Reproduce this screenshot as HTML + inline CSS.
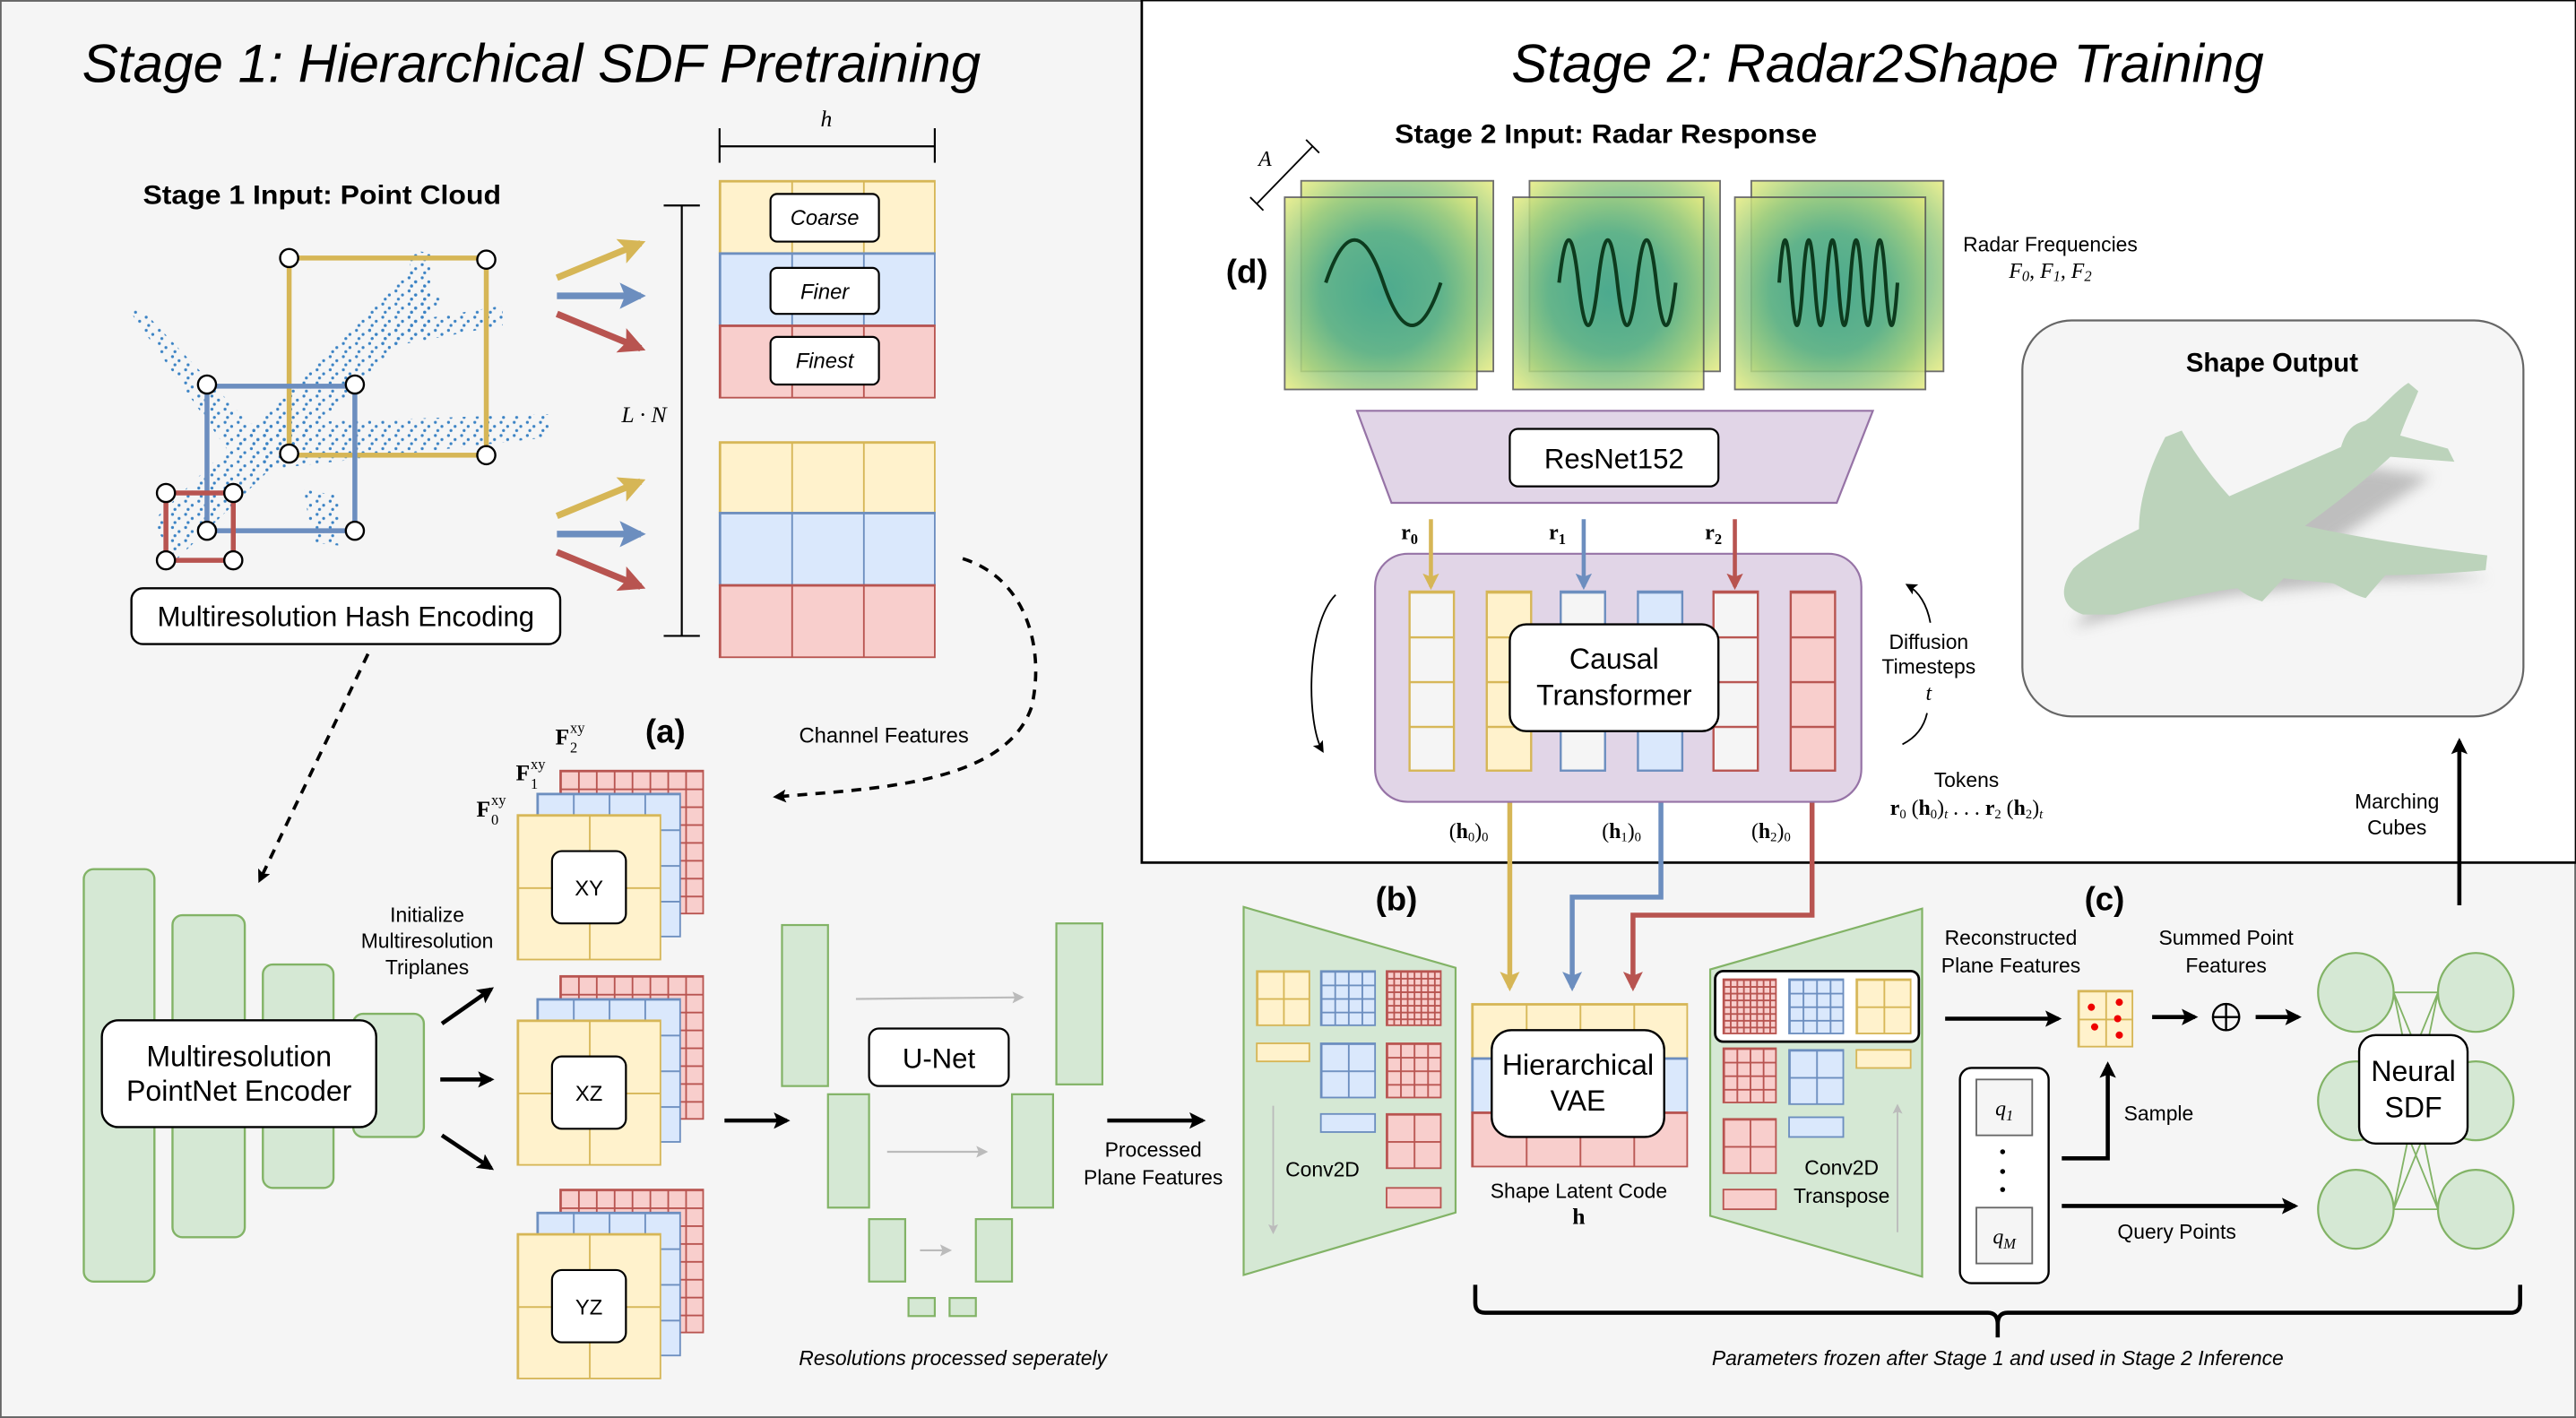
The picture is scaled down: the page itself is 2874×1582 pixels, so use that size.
<!DOCTYPE html>
<html><head><meta charset="utf-8"><style>
html,body{margin:0;padding:0;background:#f5f5f5;}
svg{display:block;}
text{font-family:"Liberation Sans",sans-serif;}
.it{font-style:italic;}
.b{font-weight:bold;}
.ser{font-family:"Liberation Serif",serif;}
</style></head><body>
<svg xmlns="http://www.w3.org/2000/svg" width="2874" height="1582" viewBox="0 0 1568 863">
<defs>
<marker id="ak" viewBox="0 0 10 10" refX="8" refY="5" markerWidth="4" markerHeight="4" orient="auto"><path d="M0,0L10,5L0,10L2,5z" fill="#000"/></marker>
<marker id="ay" viewBox="0 0 10 10" refX="8" refY="5" markerWidth="4" markerHeight="4" orient="auto"><path d="M0,0L10,5L0,10L2,5z" fill="#d6b656"/></marker>
<marker id="ab" viewBox="0 0 10 10" refX="8" refY="5" markerWidth="4" markerHeight="4" orient="auto"><path d="M0,0L10,5L0,10L2,5z" fill="#6c8ebf"/></marker>
<marker id="ar" viewBox="0 0 10 10" refX="8" refY="5" markerWidth="4" markerHeight="4" orient="auto"><path d="M0,0L10,5L0,10L2,5z" fill="#b85450"/></marker>
<marker id="ag" viewBox="0 0 10 10" refX="8" refY="5" markerWidth="6" markerHeight="6" orient="auto"><path d="M0,0L10,5L0,10L2,5z" fill="#bbb"/></marker>
<marker id="ak2" viewBox="0 0 10 10" refX="8" refY="5" markerWidth="7" markerHeight="7" orient="auto"><path d="M0,0L10,5L0,10L2,5z" fill="#000"/></marker>
<radialGradient id="rad" cx="0.5" cy="0.5" r="0.7">
<stop offset="0" stop-color="#48a88c"/><stop offset="0.45" stop-color="#5eb289"/><stop offset="0.75" stop-color="#a0ce80"/><stop offset="1" stop-color="#e6ec80"/></radialGradient>
<filter id="sh" x="-20%" y="-20%" width="140%" height="160%"><feGaussianBlur stdDeviation="4"/></filter>
<pattern id="dots" patternUnits="userSpaceOnUse" width="8" height="8">
<circle cx="1" cy="1" r="0.9" fill="#3a82c4"/><circle cx="5" cy="3.5" r="0.9" fill="#3a82c4"/><circle cx="2.5" cy="6" r="0.9" fill="#3a82c4"/>
</pattern>
<pattern id="Y3" patternUnits="objectBoundingBox" width="0.33333" height="1"><rect width="1000" height="1000" fill="#fff2cc"/><path d="M0,0V1000M0,0H1000" stroke="#d6b656" stroke-width="2"/></pattern>
<pattern id="B3" patternUnits="objectBoundingBox" width="0.33333" height="1"><rect width="1000" height="1000" fill="#dae8fc"/><path d="M0,0V1000M0,0H1000" stroke="#6c8ebf" stroke-width="2"/></pattern>
<pattern id="R3" patternUnits="objectBoundingBox" width="0.33333" height="1"><rect width="1000" height="1000" fill="#f8cecc"/><path d="M0,0V1000M0,0H1000" stroke="#b85450" stroke-width="2"/></pattern>
<pattern id="Y4r" patternUnits="objectBoundingBox" width="0.25" height="1"><rect width="1000" height="1000" fill="#fff2cc"/><path d="M0,0V1000M0,0H1000" stroke="#d6b656" stroke-width="2"/></pattern>
<pattern id="B4r" patternUnits="objectBoundingBox" width="0.25" height="1"><rect width="1000" height="1000" fill="#dae8fc"/><path d="M0,0V1000M0,0H1000" stroke="#6c8ebf" stroke-width="2"/></pattern>
<pattern id="R4r" patternUnits="objectBoundingBox" width="0.25" height="1"><rect width="1000" height="1000" fill="#f8cecc"/><path d="M0,0V1000M0,0H1000" stroke="#b85450" stroke-width="2"/></pattern>
<pattern id="Y2" patternUnits="objectBoundingBox" width="0.5" height="0.5"><rect width="1000" height="1000" fill="#fff2cc"/><path d="M0,0V1000M0,0H1000" stroke="#d6b656" stroke-width="2"/></pattern>
<pattern id="B2" patternUnits="objectBoundingBox" width="0.5" height="0.5"><rect width="1000" height="1000" fill="#dae8fc"/><path d="M0,0V1000M0,0H1000" stroke="#6c8ebf" stroke-width="2"/></pattern>
<pattern id="R2" patternUnits="objectBoundingBox" width="0.5" height="0.5"><rect width="1000" height="1000" fill="#f8cecc"/><path d="M0,0V1000M0,0H1000" stroke="#b85450" stroke-width="2"/></pattern>
<pattern id="B4" patternUnits="objectBoundingBox" width="0.25" height="0.25"><rect width="1000" height="1000" fill="#dae8fc"/><path d="M0,0V1000M0,0H1000" stroke="#6c8ebf" stroke-width="2"/></pattern>
<pattern id="R4" patternUnits="objectBoundingBox" width="0.25" height="0.25"><rect width="1000" height="1000" fill="#f8cecc"/><path d="M0,0V1000M0,0H1000" stroke="#b85450" stroke-width="2"/></pattern>
<pattern id="R8" patternUnits="objectBoundingBox" width="0.125" height="0.125"><rect width="1000" height="1000" fill="#f8cecc"/><path d="M0,0V1000M0,0H1000" stroke="#b85450" stroke-width="2"/></pattern>
<pattern id="TWy" patternUnits="objectBoundingBox" width="1" height="0.25"><rect width="1000" height="1000" fill="#f5f5f5"/><path d="M0,0H1000" stroke="#d6b656" stroke-width="2.6"/></pattern>
<pattern id="TY" patternUnits="objectBoundingBox" width="1" height="0.25"><rect width="1000" height="1000" fill="#fff2cc"/><path d="M0,0H1000" stroke="#d6b656" stroke-width="2.6"/></pattern>
<pattern id="TWb" patternUnits="objectBoundingBox" width="1" height="0.25"><rect width="1000" height="1000" fill="#f5f5f5"/><path d="M0,0H1000" stroke="#6c8ebf" stroke-width="2.6"/></pattern>
<pattern id="TB" patternUnits="objectBoundingBox" width="1" height="0.25"><rect width="1000" height="1000" fill="#dae8fc"/><path d="M0,0H1000" stroke="#6c8ebf" stroke-width="2.6"/></pattern>
<pattern id="TWr" patternUnits="objectBoundingBox" width="1" height="0.25"><rect width="1000" height="1000" fill="#f5f5f5"/><path d="M0,0H1000" stroke="#b85450" stroke-width="2.6"/></pattern>
<pattern id="TR" patternUnits="objectBoundingBox" width="1" height="0.25"><rect width="1000" height="1000" fill="#f8cecc"/><path d="M0,0H1000" stroke="#b85450" stroke-width="2.6"/></pattern>
</defs>
<rect x="0" y="0" width="1568" height="863" fill="#f5f5f5" stroke="#666" stroke-width="2"/>
<rect x="695" y="0" width="873" height="525" fill="#fff" stroke="#000" stroke-width="1.5"/>

<text x="50" y="50" font-size="33" class="it" textLength="547" lengthAdjust="spacingAndGlyphs">Stage 1: Hierarchical SDF Pretraining</text>
<text x="920" y="50" font-size="33" class="it" textLength="458" lengthAdjust="spacingAndGlyphs">Stage 2: Radar2Shape Training</text>

<text x="87" y="124" font-size="16" class="b" textLength="218" lengthAdjust="spacingAndGlyphs">Stage 1 Input: Point Cloud</text>
<g fill="url(#dots)">
<polygon points="92,318 250,165 270,184 108,340"/>
<polygon points="78,188 88,190 156,262 140,276"/>
<polygon points="150,258 335,252 335,266 160,286"/>
<polygon points="222,200 306,186 306,198 232,212"/>
<polygon points="250,152 262,154 262,205 248,205"/>
<polygon points="185,298 208,302 206,332 190,330"/>
</g>
<g fill="none" stroke-width="3">
<rect x="176" y="157" width="120" height="120" stroke="#d6b656"/>
<rect x="126" y="235" width="90" height="88" stroke="#6c8ebf"/>
<rect x="101" y="300" width="41" height="41" stroke="#b85450"/>
</g>
<g fill="#fff" stroke="#000" stroke-width="1.3">
<circle cx="176" cy="157" r="5.5"/><circle cx="296" cy="158" r="5.5"/><circle cx="176" cy="276" r="5.5"/><circle cx="296" cy="277" r="5.5"/>
<circle cx="126" cy="234" r="5.5"/><circle cx="216" cy="234" r="5.5"/><circle cx="126" cy="323" r="5.5"/><circle cx="216" cy="323" r="5.5"/>
<circle cx="101" cy="300" r="5.5"/><circle cx="142" cy="300" r="5.5"/><circle cx="101" cy="341" r="5.5"/><circle cx="142" cy="341" r="5.5"/>
</g>
<rect x="80" y="358" width="261" height="34" rx="7" fill="#fff" stroke="#000" stroke-width="1.3"/>
<text x="210.5" y="381" font-size="17" text-anchor="middle">Multiresolution Hash Encoding</text>

<g stroke-width="4" fill="none">
<line x1="339" y1="169" x2="390" y2="148" stroke="#d6b656" marker-end="url(#ay)"/>
<line x1="339" y1="180" x2="390" y2="180" stroke="#6c8ebf" marker-end="url(#ab)"/>
<line x1="339" y1="191" x2="390" y2="212" stroke="#b85450" marker-end="url(#ar)"/>
<line x1="339" y1="314" x2="390" y2="293" stroke="#d6b656" marker-end="url(#ay)"/>
<line x1="339" y1="325" x2="390" y2="325" stroke="#6c8ebf" marker-end="url(#ab)"/>
<line x1="339" y1="336" x2="390" y2="357" stroke="#b85450" marker-end="url(#ar)"/>
</g>
<rect x="438" y="110" width="131" height="44" fill="url(#Y3)" stroke="#d6b656"/>
<rect x="438" y="154" width="131" height="44" fill="url(#B3)" stroke="#6c8ebf"/>
<rect x="438" y="198" width="131" height="44" fill="url(#R3)" stroke="#b85450"/>
<rect x="438" y="269" width="131" height="43" fill="url(#Y3)" stroke="#d6b656"/>
<rect x="438" y="312" width="131" height="44" fill="url(#B3)" stroke="#6c8ebf"/>
<rect x="438" y="356" width="131" height="44" fill="url(#R3)" stroke="#b85450"/>
<g fill="#fff" stroke="#000" stroke-width="1.2">
<rect x="469" y="118" width="66" height="29" rx="4"/><rect x="469" y="163" width="66" height="28" rx="4"/><rect x="469" y="205" width="66" height="29" rx="4"/>
</g>
<text x="502" y="137" font-size="13" class="it" text-anchor="middle">Coarse</text>
<text x="502" y="182" font-size="13" class="it" text-anchor="middle">Finer</text>
<text x="502" y="224" font-size="13" class="it" text-anchor="middle">Finest</text>
<g stroke="#000" stroke-width="1.2">
<line x1="438" y1="89" x2="569" y2="89"/><line x1="438" y1="78" x2="438" y2="99"/><line x1="569" y1="78" x2="569" y2="99"/>
<line x1="415" y1="125" x2="415" y2="387"/><line x1="404" y1="125" x2="426" y2="125"/><line x1="404" y1="387" x2="426" y2="387"/>
</g>
<text x="503" y="77" font-size="14" class="it ser" text-anchor="middle">h</text>
<text x="392" y="257" font-size="14" class="it ser" text-anchor="middle">L · N</text>

<path d="M586,340 C625,352 636,395 628,430 C612,478 530,480 472,485" fill="none" stroke="#000" stroke-width="2" stroke-dasharray="6,5" marker-end="url(#ak)"/>
<text x="538" y="452" font-size="13" text-anchor="middle">Channel Features</text>
<path d="M224,398 L158,536" fill="none" stroke="#000" stroke-width="2" stroke-dasharray="6,5" marker-end="url(#ak)"/>

<g fill="#d5e8d4" stroke="#82b366" stroke-width="1.3">
<rect x="51" y="529" width="43" height="251" rx="6"/>
<rect x="105" y="557" width="44" height="196" rx="6"/>
<rect x="160" y="587" width="43" height="136" rx="6"/>
<rect x="215" y="617" width="43" height="75" rx="6"/>
</g>
<rect x="62" y="621" width="167" height="65" rx="10" fill="#fff" stroke="#000" stroke-width="1.3"/>
<text x="145.5" y="649" font-size="17.5" text-anchor="middle">Multiresolution</text>
<text x="145.5" y="670" font-size="17.5" text-anchor="middle">PointNet Encoder</text>
<text x="260" y="561" font-size="12.5" text-anchor="middle">Initialize</text>
<text x="260" y="577" font-size="12.5" text-anchor="middle">Multiresolution</text>
<text x="260" y="593" font-size="12.5" text-anchor="middle">Triplanes</text>
<g stroke="#000" stroke-width="2.5" marker-end="url(#ak)">
<line x1="269" y1="623" x2="299" y2="602"/><line x1="268" y1="657" x2="299" y2="657"/><line x1="269" y1="691" x2="299" y2="711"/>
</g>
<g>
<rect x="341" y="469" width="87" height="87" fill="url(#R8)" stroke="#b85450"/>
<rect x="327" y="483" width="87" height="87" fill="url(#B4)" stroke="#6c8ebf"/>
<rect x="315" y="496" width="87" height="88" fill="url(#Y2)" stroke="#d6b656"/>
<rect x="336" y="518" width="45" height="44" rx="6" fill="#fff" stroke="#000" stroke-width="1.2"/>
<text x="358.5" y="545" font-size="13" text-anchor="middle">XY</text>
<rect x="341" y="594" width="87" height="87" fill="url(#R8)" stroke="#b85450"/>
<rect x="327" y="608" width="87" height="87" fill="url(#B4)" stroke="#6c8ebf"/>
<rect x="315" y="621" width="87" height="88" fill="url(#Y2)" stroke="#d6b656"/>
<rect x="336" y="643" width="45" height="44" rx="6" fill="#fff" stroke="#000" stroke-width="1.2"/>
<text x="358.5" y="670" font-size="13" text-anchor="middle">XZ</text>
<rect x="341" y="724" width="87" height="87" fill="url(#R8)" stroke="#b85450"/>
<rect x="327" y="738" width="87" height="87" fill="url(#B4)" stroke="#6c8ebf"/>
<rect x="315" y="751" width="87" height="88" fill="url(#Y2)" stroke="#d6b656"/>
<rect x="336" y="773" width="45" height="44" rx="6" fill="#fff" stroke="#000" stroke-width="1.2"/>
<text x="358.5" y="800" font-size="13" text-anchor="middle">YZ</text>
</g>
<text x="338" y="453" font-size="14" class="b ser">F</text><text x="347" y="446" font-size="9" class="ser">xy</text><text x="347" y="458" font-size="9" class="ser">2</text>
<text x="314" y="475" font-size="14" class="b ser">F</text><text x="323" y="468" font-size="9" class="ser">xy</text><text x="323" y="480" font-size="9" class="ser">1</text>
<text x="290" y="497" font-size="14" class="b ser">F</text><text x="299" y="490" font-size="9" class="ser">xy</text><text x="299" y="502" font-size="9" class="ser">0</text>
<text x="405" y="452" font-size="20" class="b" text-anchor="middle">(a)</text>

<line x1="441" y1="682" x2="479" y2="682" stroke="#000" stroke-width="2.5" marker-end="url(#ak)"/>
<g fill="#d5e8d4" stroke="#82b366" stroke-width="1.2">
<rect x="476" y="563" width="28" height="98"/><rect x="504" y="666" width="25" height="69"/><rect x="529" y="742" width="22" height="38"/>
<rect x="553" y="790" width="16" height="11"/><rect x="578" y="790" width="16" height="11"/>
<rect x="594" y="742" width="22" height="38"/><rect x="616" y="666" width="25" height="69"/><rect x="643" y="562" width="28" height="98"/>
</g>
<g stroke="#bbb" stroke-width="1.2" marker-end="url(#ag)">
<line x1="521" y1="608" x2="622" y2="607"/><line x1="540" y1="701" x2="600" y2="701"/><line x1="560" y1="761" x2="578" y2="761"/>
</g>
<rect x="529" y="626" width="85" height="35" rx="6" fill="#fff" stroke="#000" stroke-width="1.2"/>
<text x="571.5" y="650" font-size="17" text-anchor="middle">U-Net</text>
<text x="580" y="831" font-size="12.5" class="it" text-anchor="middle">Resolutions processed seperately</text>
<line x1="674" y1="682" x2="732" y2="682" stroke="#000" stroke-width="2.5" marker-end="url(#ak)"/>
<text x="702" y="704" font-size="12.5" text-anchor="middle">Processed</text>
<text x="702" y="721" font-size="12.5" text-anchor="middle">Plane Features</text>

<text x="850" y="554" font-size="20" class="b" text-anchor="middle">(b)</text>
<polygon points="757,552 886,589 886,738 757,776" fill="#d5e8d4" stroke="#82b366" stroke-width="1.2"/>
<polygon points="1041,590 1170,553 1170,777 1041,740" fill="#d5e8d4" stroke="#82b366" stroke-width="1.2"/>
<rect x="1044" y="591" width="124" height="43" rx="5" fill="#fff" stroke="#000" stroke-width="1.5"/>
<g stroke-width="1">
<rect x="765" y="591" width="32" height="33" fill="url(#Y2)" stroke="#d6b656"/>
<rect x="804" y="591" width="33" height="33" fill="url(#B4)" stroke="#6c8ebf"/>
<rect x="844" y="591" width="33" height="33" fill="url(#R8)" stroke="#b85450"/>
<rect x="765" y="635" width="32" height="11" fill="#fff2cc" stroke="#d6b656"/>
<rect x="804" y="635" width="33" height="33" fill="url(#B2)" stroke="#6c8ebf"/>
<rect x="844" y="635" width="33" height="33" fill="url(#R4)" stroke="#b85450"/>
<rect x="804" y="678" width="33" height="11" fill="#dae8fc" stroke="#6c8ebf"/>
<rect x="844" y="678" width="33" height="33" fill="url(#R2)" stroke="#b85450"/>
<rect x="844" y="723" width="33" height="12" fill="#f8cecc" stroke="#b85450"/>
<rect x="1049" y="596" width="32" height="33" fill="url(#R8)" stroke="#b85450"/>
<rect x="1089" y="596" width="33" height="33" fill="url(#B4)" stroke="#6c8ebf"/>
<rect x="1130" y="596" width="33" height="33" fill="url(#Y2)" stroke="#d6b656"/>
<rect x="1049" y="638" width="32" height="33" fill="url(#R4)" stroke="#b85450"/>
<rect x="1089" y="639" width="33" height="33" fill="url(#B2)" stroke="#6c8ebf"/>
<rect x="1130" y="639" width="33" height="11" fill="#fff2cc" stroke="#d6b656"/>
<rect x="1049" y="681" width="32" height="33" fill="url(#R2)" stroke="#b85450"/>
<rect x="1089" y="680" width="33" height="12" fill="#dae8fc" stroke="#6c8ebf"/>
<rect x="1049" y="724" width="32" height="12" fill="#f8cecc" stroke="#b85450"/>
</g>
<line x1="775" y1="673" x2="775" y2="750" stroke="#bbb" stroke-width="1" marker-end="url(#ag)"/>
<line x1="1155" y1="750" x2="1155" y2="673" stroke="#bbb" stroke-width="1" marker-end="url(#ag)"/>
<text x="805" y="716" font-size="12.5" text-anchor="middle">Conv2D</text>
<text x="1121" y="715" font-size="12.5" text-anchor="middle">Conv2D</text>
<text x="1121" y="732" font-size="12.5" text-anchor="middle">Transpose</text>
<rect x="896" y="611" width="131" height="33" fill="url(#Y4r)" stroke="#d6b656"/>
<rect x="896" y="644" width="131" height="33" fill="url(#B4r)" stroke="#6c8ebf"/>
<rect x="896" y="677" width="131" height="33" fill="url(#R4r)" stroke="#b85450"/>
<rect x="908" y="627" width="105" height="65" rx="12" fill="#fff" stroke="#000" stroke-width="1.3"/>
<text x="960.5" y="654" font-size="17.5" text-anchor="middle">Hierarchical</text>
<text x="960.5" y="676" font-size="17.5" text-anchor="middle">VAE</text>
<text x="961" y="729" font-size="12.5" text-anchor="middle">Shape Latent Code</text>
<text x="961" y="745" font-size="14" class="b ser" text-anchor="middle">h</text>
<g fill="none" stroke-width="3">
<polyline points="919,470 919,601" stroke="#d6b656" marker-end="url(#ay)"/>
<polyline points="1011,470 1011,546 957,546 957,601" stroke="#6c8ebf" marker-end="url(#ab)"/>
<polyline points="1103,470 1103,557 994,557 994,601" stroke="#b85450" marker-end="url(#ar)"/>
</g>

<text x="1281" y="554" font-size="20" class="b" text-anchor="middle">(c)</text>
<text x="1224" y="575" font-size="12.5" text-anchor="middle">Reconstructed</text>
<text x="1224" y="592" font-size="12.5" text-anchor="middle">Plane Features</text>
<text x="1355" y="575" font-size="12.5" text-anchor="middle">Summed Point</text>
<text x="1355" y="592" font-size="12.5" text-anchor="middle">Features</text>
<g stroke="#000" stroke-width="2.5" marker-end="url(#ak)">
<line x1="1184" y1="620" x2="1253" y2="620"/><line x1="1310" y1="619" x2="1336" y2="619"/><line x1="1373" y1="619" x2="1399" y2="619"/>
<polyline points="1255,705 1283,705 1283,648" fill="none"/>
<line x1="1255" y1="734" x2="1397" y2="734"/>
</g>
<rect x="1265" y="603" width="33" height="34" fill="url(#Y2)" stroke="#d6b656"/>
<g fill="#e00"><circle cx="1273" cy="613" r="2.2"/><circle cx="1290" cy="610" r="2.2"/><circle cx="1289" cy="620" r="2.2"/><circle cx="1275" cy="625" r="2.2"/><circle cx="1290" cy="630" r="2.2"/></g>
<circle cx="1355" cy="619" r="8" fill="none" stroke="#000" stroke-width="1.3"/>
<line x1="1347" y1="619" x2="1363" y2="619" stroke="#000" stroke-width="1.3"/><line x1="1355" y1="611" x2="1355" y2="627" stroke="#000" stroke-width="1.3"/>
<text x="1314" y="682" font-size="12.5" text-anchor="middle">Sample</text>
<text x="1325" y="754" font-size="12.5" text-anchor="middle">Query Points</text>
<rect x="1193" y="650" width="54" height="131" rx="7" fill="#fff" stroke="#000" stroke-width="1.3"/>
<rect x="1203" y="657" width="34" height="34" fill="#f5f5f5" stroke="#666"/>
<rect x="1203" y="735" width="34" height="34" fill="#f5f5f5" stroke="#666"/>
<text x="1220" y="679" font-size="13" class="it ser" text-anchor="middle">q<tspan font-size="9" dy="3">1</tspan></text>
<text x="1220" y="757" font-size="13" class="it ser" text-anchor="middle">q<tspan font-size="9" dy="3">M</tspan></text>
<g fill="#000"><circle cx="1219" cy="701" r="1.5"/><circle cx="1219" cy="713" r="1.5"/><circle cx="1219" cy="724" r="1.5"/></g>
<g stroke="#82b366" stroke-width="1" fill="none">
<line x1="1457" y1="604" x2="1484" y2="604"/><line x1="1457" y1="736" x2="1484" y2="736"/>
<line x1="1457" y1="604" x2="1484" y2="736"/><line x1="1457" y1="736" x2="1484" y2="604"/>
<line x1="1457" y1="604" x2="1484" y2="670"/><line x1="1457" y1="670" x2="1484" y2="604"/>
<line x1="1457" y1="670" x2="1484" y2="736"/><line x1="1457" y1="736" x2="1484" y2="670"/>
</g>
<g fill="#d5e8d4" stroke="#82b366" stroke-width="1.2">
<ellipse cx="1434" cy="604" rx="23" ry="24"/><ellipse cx="1507" cy="604" rx="23" ry="24"/>
<ellipse cx="1434" cy="670" rx="23" ry="24"/><ellipse cx="1507" cy="670" rx="23" ry="24"/>
<ellipse cx="1434" cy="736" rx="23" ry="24"/><ellipse cx="1507" cy="736" rx="23" ry="24"/>
</g>
<rect x="1436" y="630" width="66" height="66" rx="10" fill="#fff" stroke="#000" stroke-width="1.3"/>
<text x="1469" y="658" font-size="17.5" text-anchor="middle">Neural</text>
<text x="1469" y="680" font-size="17.5" text-anchor="middle">SDF</text>
<path d="M898,782 L898,793 Q898,799 904,799 L1210,799 Q1216,799 1216,806 L1216,814 M1216,806 Q1216,799 1222,799 L1528,799 Q1534,799 1534,793 L1534,782" fill="none" stroke="#000" stroke-width="2.5"/>
<text x="1216" y="831" font-size="12.5" class="it" text-anchor="middle">Parameters frozen after Stage 1 and used in Stage 2 Inference</text>
<line x1="1497" y1="551" x2="1497" y2="451" stroke="#000" stroke-width="2.5" marker-end="url(#ak)"/>
<text x="1459" y="492" font-size="12.5" text-anchor="middle">Marching</text>
<text x="1459" y="508" font-size="12.5" text-anchor="middle">Cubes</text>

<text x="849" y="87" font-size="16" class="b" textLength="257" lengthAdjust="spacingAndGlyphs">Stage 2 Input: Radar Response</text>
<g stroke="#000" stroke-width="1"><line x1="765" y1="124" x2="799" y2="89"/><line x1="761" y1="120" x2="769" y2="128"/><line x1="795" y1="85" x2="803" y2="93"/></g>
<text x="770" y="101" font-size="13" class="it ser" text-anchor="middle">A</text>
<text x="759" y="172" font-size="20" class="b" text-anchor="middle">(d)</text>
<g stroke="#555" stroke-width="1">
<rect x="792" y="110" width="117" height="116" fill="url(#rad)" opacity="0.85"/>
<rect x="782" y="120" width="117" height="117" fill="url(#rad)" opacity="0.85"/>
<rect x="931" y="110" width="116" height="116" fill="url(#rad)" opacity="0.85"/>
<rect x="921" y="120" width="116" height="117" fill="url(#rad)" opacity="0.85"/>
<rect x="1066" y="110" width="117" height="116" fill="url(#rad)" opacity="0.85"/>
<rect x="1056" y="120" width="116" height="117" fill="url(#rad)" opacity="0.85"/>
</g>
<g fill="none" stroke="#0d3b1e" stroke-width="2.2">
<path d="M807,172 Q824.5,120 842,172 T877,172"/>
<path d="M949,172 Q954.9,120 960.8,172 T972.7,172 T984.5,172 T996.3,172 T1008.2,172 T1020,172"/>
<path d="M1083,172 Q1086.6,120 1090.2,172 T1097.4,172 T1104.6,172 T1111.8,172 T1119,172 T1126.2,172 T1133.4,172 T1140.6,172 T1147.8,172 T1155,172"/>
</g>
<text x="1248" y="153" font-size="12.5" text-anchor="middle">Radar Frequencies</text>
<text x="1248" y="169" font-size="13" class="it ser" text-anchor="middle">F<tspan font-size="9" dy="2">0</tspan><tspan dy="-2">, F</tspan><tspan font-size="9" dy="2">1</tspan><tspan dy="-2">, F</tspan><tspan font-size="9" dy="2">2</tspan></text>
<polygon points="826,250 1140,250 1118,306 847,306" fill="#e1d5e7" stroke="#9673a6" stroke-width="1.2"/>
<rect x="919" y="261" width="127" height="35" rx="5" fill="#fff" stroke="#000" stroke-width="1.2"/>
<text x="982.5" y="285" font-size="17" text-anchor="middle">ResNet152</text>
<text x="858" y="328" font-size="13" class="b ser" text-anchor="middle">r<tspan font-size="9" dy="3">0</tspan></text>
<text x="948" y="328" font-size="13" class="b ser" text-anchor="middle">r<tspan font-size="9" dy="3">1</tspan></text>
<text x="1043" y="328" font-size="13" class="b ser" text-anchor="middle">r<tspan font-size="9" dy="3">2</tspan></text>
<rect x="837" y="337" width="296" height="151" rx="20" fill="#e1d5e7" stroke="#9673a6" stroke-width="1.2"/>
<g stroke-width="1.3">
<rect x="858" y="360" width="27" height="109" fill="url(#TWy)" stroke="#d6b656"/>
<rect x="905" y="360" width="27" height="109" fill="url(#TY)" stroke="#d6b656"/>
<rect x="950" y="360" width="27" height="109" fill="url(#TWb)" stroke="#6c8ebf"/>
<rect x="997" y="360" width="27" height="109" fill="url(#TB)" stroke="#6c8ebf"/>
<rect x="1043" y="360" width="27" height="109" fill="url(#TWr)" stroke="#b85450"/>
<rect x="1090" y="360" width="27" height="109" fill="url(#TR)" stroke="#b85450"/>
</g>
<g fill="none" stroke-width="2.5">
<line x1="871" y1="316" x2="871" y2="357" stroke="#d6b656" marker-end="url(#ay)"/>
<line x1="964" y1="316" x2="964" y2="357" stroke="#6c8ebf" marker-end="url(#ab)"/>
<line x1="1056" y1="316" x2="1056" y2="357" stroke="#b85450" marker-end="url(#ar)"/>
</g>
<rect x="919" y="380" width="127" height="65" rx="10" fill="#fff" stroke="#000" stroke-width="1.3"/>
<text x="982.5" y="407" font-size="17.5" text-anchor="middle">Causal</text>
<text x="982.5" y="429" font-size="17.5" text-anchor="middle">Transformer</text>
<path d="M813,362 C795,380 795,440 805,457" fill="none" stroke="#000" stroke-width="1" marker-end="url(#ak2)"/>
<path d="M1175,379 C1173,368 1168,360 1161,356" fill="none" stroke="#000" stroke-width="1" marker-end="url(#ak2)"/>
<path d="M1173,434 C1171,443 1166,449 1158,453" fill="none" stroke="#000" stroke-width="1"/>
<text x="1174" y="395" font-size="12.5" text-anchor="middle">Diffusion</text>
<text x="1174" y="410" font-size="12.5" text-anchor="middle">Timesteps</text>
<text x="1174" y="426" font-size="13" class="it ser" text-anchor="middle">t</text>
<text x="1197" y="479" font-size="12.5" text-anchor="middle">Tokens</text>
<text x="1197" y="496" font-size="13" class="ser" text-anchor="middle"><tspan font-weight="bold">r</tspan><tspan font-size="8" dy="2">0</tspan><tspan dy="-2"> (</tspan><tspan font-weight="bold">h</tspan><tspan font-size="8" dy="2">0</tspan><tspan dy="-2">)</tspan><tspan font-size="8" dy="2" font-style="italic">t</tspan><tspan dy="-2"> . . . </tspan><tspan font-weight="bold">r</tspan><tspan font-size="8" dy="2">2</tspan><tspan dy="-2"> (</tspan><tspan font-weight="bold">h</tspan><tspan font-size="8" dy="2">2</tspan><tspan dy="-2">)</tspan><tspan font-size="8" dy="2" font-style="italic">t</tspan></text>
<text x="894" y="510" font-size="13" class="ser" text-anchor="middle">(<tspan font-weight="bold">h</tspan><tspan font-size="8" dy="2">0</tspan><tspan dy="-2">)</tspan><tspan font-size="8" dy="2">0</tspan></text>
<text x="987" y="510" font-size="13" class="ser" text-anchor="middle">(<tspan font-weight="bold">h</tspan><tspan font-size="8" dy="2">1</tspan><tspan dy="-2">)</tspan><tspan font-size="8" dy="2">0</tspan></text>
<text x="1078" y="510" font-size="13" class="ser" text-anchor="middle">(<tspan font-weight="bold">h</tspan><tspan font-size="8" dy="2">2</tspan><tspan dy="-2">)</tspan><tspan font-size="8" dy="2">0</tspan></text>

<rect x="1231" y="195" width="305" height="241" rx="30" fill="#f5f5f5" stroke="#666" stroke-width="1.2"/>
<text x="1383" y="226" font-size="16" class="b" text-anchor="middle">Shape Output</text>
<path d="M1262,382 L1300,372 L1360,362 L1440,354 L1515,352 L1470,344 L1420,330 L1480,290 L1440,284 L1360,310 L1320,318 Z" fill="#888" opacity="0.5" filter="url(#sh)"/>
<path d="M1268,374 C1256,370 1252,360 1262,346 C1270,338 1290,328 1302,322 C1302,305 1308,285 1318,266 L1328,262 C1336,276 1346,290 1357,302 L1425,272 C1428,262 1432,258 1440,256 C1450,248 1458,238 1466,233 L1472,238 C1468,248 1464,256 1461,265 L1490,273 L1494,281 L1455,278 C1440,292 1420,308 1403,320 C1440,328 1480,334 1514,338 L1513,347 C1490,349 1470,350 1452,350 L1440,364 C1432,362 1425,357 1420,355 L1390,352 L1377,366 C1370,364 1364,360 1362,358 C1345,360 1310,368 1288,374 Z" fill="#bcd3bb"/>
</svg>
</body></html>
